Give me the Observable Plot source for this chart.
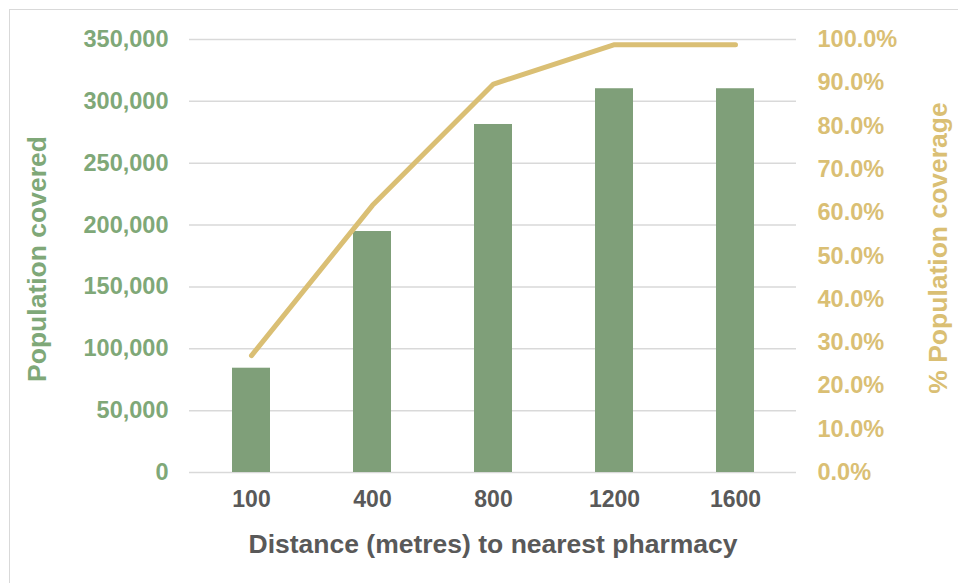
<!DOCTYPE html>
<html>
<head>
<meta charset="utf-8">
<script src="https://cdn.jsdelivr.net/npm/d3@7"></script>
<script src="https://cdn.jsdelivr.net/npm/@observablehq/plot@0.6"></script>
<style>
  html, body { margin: 0; padding: 0; background: #fff; }
  #wrap { position: relative; width: 958px; height: 583px; overflow: hidden; }
  #border { position: absolute; left: 9px; top: 9px; width: 960px; height: 600px; border: 1.5px solid #d9d9d9; box-sizing: border-box; pointer-events: none; }
  svg { font-family: "Liberation Sans", Arial, sans-serif; }
</style>
</head>
<body>
<div id="wrap"><div id="border"></div></div>
<script>
const distances = ["100", "400", "800", "1200", "1600"];
const population = [84300, 194800, 281300, 310200, 310200];
const coveragePct = [27.0, 61.7, 89.7, 98.8, 98.8];
const popTicks = [0, 50000, 100000, 150000, 200000, 250000, 300000, 350000];
const pctTicks = [0, 10, 20, 30, 40, 50, 60, 70, 80, 90, 100];
const xTitle = "Distance (metres) to nearest pharmacy";
const yLeftTitle = "Population covered";
const yRightTitle = "% Population coverage";

const popMax = 350000;
const green = "#7f9f79";
const greenText = "#7fa878";
const gold = "#dabf74";
const grid = "#d9d9d9";

const rows = distances.map((d, i) => ({dist: d, pop: population[i], pct: coveragePct[i]}));
const toY = p => p / 100 * popMax;

const chart = Plot.plot({
  width: 958,
  height: 583,
  marginLeft: 189,
  marginRight: 162,
  marginTop: 39,
  marginBottom: 111,
  style: {fontFamily: "'Liberation Sans', Arial, sans-serif", background: "transparent"},
  x: {type: "band", domain: distances, paddingInner: 0.687, paddingOuter: 0.3435},
  y: {domain: [0, popMax]},
  marks: [
    Plot.gridY(popTicks, {stroke: grid, strokeOpacity: 1, strokeWidth: 1.5}),
    Plot.barY(rows, {x: "dist", y: "pop", fill: green}),
    Plot.line(rows, {x: "dist", y: d => toY(d.pct), stroke: gold, strokeWidth: 5, strokeLinecap: "round", strokeLinejoin: "round"}),
    Plot.axisY(popTicks, {anchor: "left", tickSize: 0, tickPadding: 21, label: null,
      tickFormat: d => d3.format(",")(d), fill: greenText, fontSize: 23.5, fontWeight: "bold"}),
    Plot.axisY(pctTicks.map(toY), {anchor: "right", tickSize: 0, tickPadding: 21, label: null,
      tickFormat: d => (d / popMax * 100).toFixed(1) + "%", fill: gold, fontSize: 23.5, fontWeight: "bold"}),
    Plot.axisX({tickSize: 0, tickPadding: 18, label: null, fill: "#595959", fontSize: 23, fontWeight: "bold"}),
    Plot.text([xTitle], {frameAnchor: "bottom", dy: 80, text: d => d, fill: "#595959", fontSize: 26.5, fontWeight: "bold"}),
    Plot.text([yLeftTitle], {frameAnchor: "left", textAnchor: "middle", dx: -152, dy: 3, rotate: -90, text: d => d, fill: greenText, fontSize: 26.5, fontWeight: "bold"}),
    Plot.text([yRightTitle], {frameAnchor: "right", textAnchor: "middle", dx: 142, dy: -8, rotate: -90, text: d => d, fill: gold, fontSize: 26.5, fontWeight: "bold"})
  ]
});
document.getElementById("wrap").appendChild(chart);
chart.style.position = "absolute";
chart.style.left = "0";
chart.style.top = "0";
</script>
</body>
</html>
